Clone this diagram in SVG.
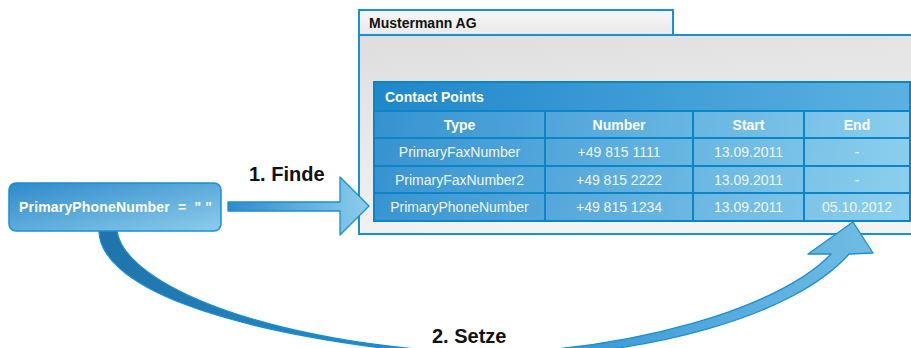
<svg xmlns="http://www.w3.org/2000/svg" width="911" height="348" viewBox="0 0 911 348">
<defs>
<linearGradient id="gTab" x1="0" y1="0" x2="0" y2="1"><stop offset="0" stop-color="#f7f7f7"/><stop offset="1" stop-color="#e9e9e9"/></linearGradient>
<linearGradient id="gBody" x1="0" y1="0" x2="0.3" y2="1"><stop offset="0" stop-color="#dedede"/><stop offset="1" stop-color="#f3f3f3"/></linearGradient>
<linearGradient id="gTitle" x1="374" y1="82" x2="911" y2="110" gradientUnits="userSpaceOnUse"><stop offset="0" stop-color="#1f87ca"/><stop offset="1" stop-color="#5cb1e1"/></linearGradient>
<linearGradient id="gCells" x1="374" y1="110" x2="911" y2="221" gradientUnits="userSpaceOnUse"><stop offset="0" stop-color="#3592d0"/><stop offset="1" stop-color="#8dd0ee"/></linearGradient>
<linearGradient id="gNode" x1="0" y1="0" x2="1" y2="1"><stop offset="0" stop-color="#2f8acb"/><stop offset="1" stop-color="#8ccdea"/></linearGradient>
<linearGradient id="gArrow1" x1="228" y1="0" x2="369" y2="0" gradientUnits="userSpaceOnUse"><stop offset="0" stop-color="#2f8bcc"/><stop offset="1" stop-color="#8ccdec"/></linearGradient>
<linearGradient id="gArrow2" x1="100" y1="0" x2="880" y2="0" gradientUnits="userSpaceOnUse"><stop offset="0" stop-color="#2074ab"/><stop offset="0.5" stop-color="#2a8fd0"/><stop offset="1" stop-color="#72bde5"/></linearGradient>
</defs>
<style>
.frame{stroke:#1591d6;stroke-width:2}
.grid{stroke:#0b85c8;stroke-width:2;fill:none}
.hd{font-family:"Liberation Sans",Arial,sans-serif;font-size:14px;font-weight:bold;fill:#ffffff;text-anchor:middle}
.cell{font-family:"Liberation Sans",Arial,sans-serif;font-size:14px;fill:#f1f7fb;text-anchor:middle}
.lbl{font-family:"Liberation Sans",Arial,sans-serif;font-size:20px;font-weight:bold;fill:#111111}
.conn{stroke:#1a8fd1;stroke-width:1.3;stroke-linejoin:round}
</style>

<g id="window">
<rect x="359" y="35" width="560" height="199" fill="url(#gBody)" class="frame"/>
<rect x="359" y="10" width="314" height="25" fill="url(#gTab)" class="frame"/>
<text x="369" y="28" font-family="'Liberation Sans',Arial,sans-serif" font-size="14" font-weight="bold" fill="#111">Mustermann AG</text>
</g>

<g id="table">
<rect x="374" y="82" width="536" height="29" fill="url(#gTitle)"/>
<rect x="374" y="111" width="536" height="110" fill="url(#gCells)"/>
<rect x="374" y="82" width="536" height="139" class="grid"/>
<path class="grid" d="M374,111H910M374,138H910M374,166H910M374,193H910M545,111V221M693,111V221M804,111V221"/>
<text x="385" y="102" font-family="'Liberation Sans',Arial,sans-serif" font-size="14" font-weight="bold" fill="#fff">Contact Points</text>
<text class="hd" x="459.5" y="130">Type</text>
<text class="hd" x="619" y="130">Number</text>
<text class="hd" x="748.5" y="130">Start</text>
<text class="hd" x="857" y="130">End</text>
<text class="cell" x="459.5" y="157">PrimaryFaxNumber</text>
<text class="cell" x="619" y="157">+49 815 1111</text>
<text class="cell" x="748.5" y="157">13.09.2011</text>
<text class="cell" x="857" y="157">-</text>
<text class="cell" x="459.5" y="185">PrimaryFaxNumber2</text>
<text class="cell" x="619" y="185">+49 815 2222</text>
<text class="cell" x="748.5" y="185">13.09.2011</text>
<text class="cell" x="857" y="185">-</text>
<text class="cell" x="459.5" y="212">PrimaryPhoneNumber</text>
<text class="cell" x="619" y="212">+49 815 1234</text>
<text class="cell" x="748.5" y="212">13.09.2011</text>
<text class="cell" x="857" y="212">05.10.2012</text>
</g>

<g id="connectors">
<path id="arrow-setze" class="conn" fill="url(#gArrow2)" d="M99,231 C100,280 200,335 478,358 C650,358 795,315 849,254 L873,253 L853,222 L808,254 L831,254 C780,308 630,352 478,353 C270,345 125,285 117,231 Z"/>
<path id="arrow-finde" class="conn" fill="url(#gArrow1)" d="M228,202 L340,202 L340,177 L369,206 L340,235 L340,211 L228,211 Z"/>
</g>

<g id="node-phone">
<rect x="9" y="183" width="212" height="48" rx="7" fill="url(#gNode)" stroke="#1a8fd1" stroke-width="1.5"/>
<text x="19" y="212" font-family="'Liberation Sans',Arial,sans-serif" font-size="14" font-weight="bold" fill="#fff" style="white-space:pre" textLength="193" lengthAdjust="spacing">PrimaryPhoneNumber  =  " "</text>
</g>

<g id="labels">
<text class="lbl" x="249" y="181">1. Finde</text>
<text class="lbl" x="432" y="343">2. Setze</text>
</g>
</svg>
